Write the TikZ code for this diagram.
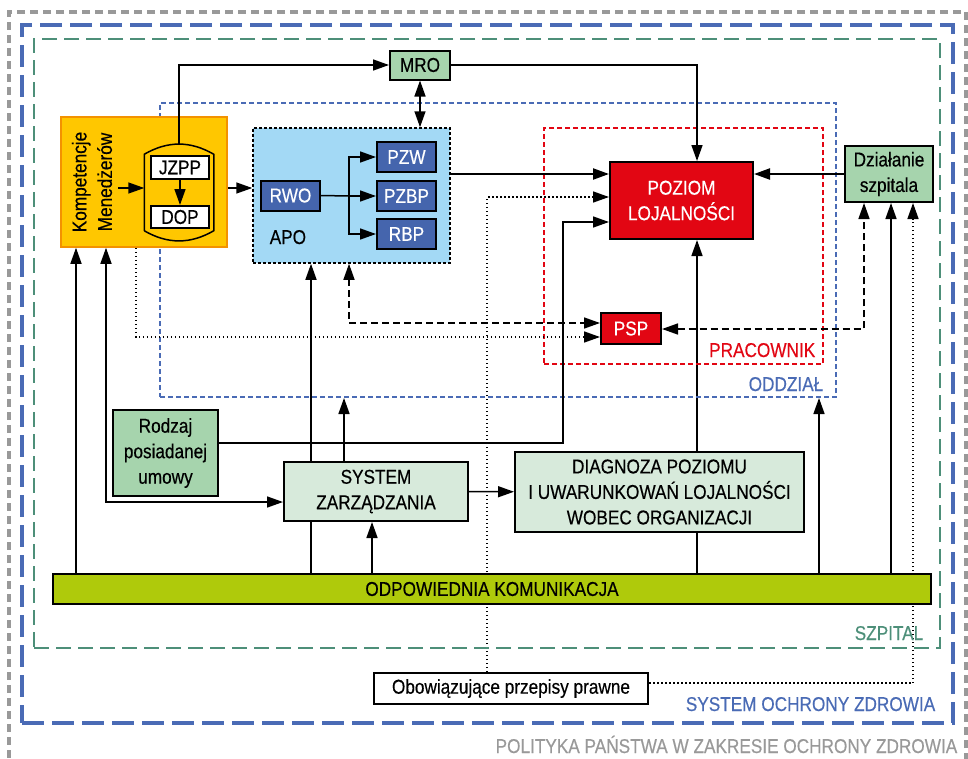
\documentclass[tikz,border=0pt]{standalone}
\usepackage{fontspec}
\setmainfont{Liberation Sans}[FakeStretch=0.86,FakeBold=0.4]
\usepackage{xcolor}
\usepackage{tikz}
\usetikzlibrary{arrows.meta,backgrounds,positioning}

\definecolor{zolty}{HTML}{FFC700}
\definecolor{pomarancz}{HTML}{F39200}
\definecolor{blekit}{HTML}{A3D9F5}
\definecolor{granat}{HTML}{4565AD}
\definecolor{zielen}{HTML}{A6D4AD}
\definecolor{jasnazielen}{HTML}{D7EADB}
\definecolor{czerwien}{HTML}{E20613}
\definecolor{oliwka}{HTML}{AFCA0B}
\definecolor{niebieski}{HTML}{4A6BB5}
\definecolor{morski}{HTML}{4D8F79}
\definecolor{szary}{HTML}{999999}

\tikzset{
	>={Triangle[length=16pt,width=11pt]},
	every node/.style={font=\fontsize{20}{25.5}\selectfont, inner sep=0pt, align=center},
	linia/.style={line width=1.5pt},
	zielony/.style={draw=black, line width=2pt, fill=zielen},
	jasny/.style={draw=black, line width=2pt, fill=jasnazielen},
	czerwony/.style={draw=black, line width=2pt, fill=czerwien, text=white},
	granatowy/.style={draw=black, line width=2pt, fill=granat, text=white,
			minimum width=59pt, minimum height=30pt},
	bialy/.style={draw=black, line width=2pt, fill=white},
	kreski/.style={dash pattern=on 7pt off 4pt},
	kropki/.style={dash pattern=on 1.5pt off 2.5pt},
	% ramki
	polityka/.style={draw=szary, line width=3.5pt, dash pattern=on 8pt off 5pt},
	soz/.style={draw=niebieski, line width=4pt, dash pattern=on 22pt off 8pt},
	szpital/.style={draw=morski, line width=2pt, dash pattern=on 15pt off 7pt},
	oddzial/.style={draw=niebieski, line width=2pt, dash pattern=on 5pt off 3pt},
	pracownik/.style={draw=czerwien, line width=2.5pt, dash pattern=on 5pt off 3pt}
}

\begin{document}
\begin{tikzpicture}[x=1pt,y=-1pt,linia]
	\useasboundingbox (0,0) rectangle (968,758);

	% ramki
	\node[polityka, minimum width=957pt, minimum height=780pt] (Polityka) at (487.5,402) {};
	\node[soz, minimum width=931pt, minimum height=698pt] (SOZ) at (487.5,374) {};
	\node[szpital, minimum width=906pt, minimum height=609pt] (Szpital) at (487,343.5) {};
	\node[oddzial, minimum width=676pt, minimum height=294pt] (Oddzial) at (498,250) {};
	\node[pracownik, minimum width=279pt, minimum height=236pt] (Pracownik) at (683.5,246) {};

	\node[anchor=base east, text=szary] (Polityka label) at (958,753) {POLITYKA PAŃSTWA W ZAKRESIE OCHRONY ZDROWIA};
	\node[anchor=base east, text=niebieski] (SOZ label) at (936,711) {SYSTEM OCHRONY ZDROWIA};
	\node[anchor=base east, text=morski] (Szpital label) at (924,640) {SZPITAL};
	\node[anchor=base east, text=niebieski] (Oddzial label) at (824,391) {ODDZIAŁ};
	\node[anchor=base east, text=czerwien] (Pracownik label) at (816,357) {PRACOWNIK};

	% bloki
	\node[zielony, minimum width=60pt, minimum height=29pt] (MRO) at (420,65) {MRO};
	\node[draw=pomarancz, line width=1.5pt, fill=zolty, minimum width=166pt, minimum height=130pt] (Kompetencje) at (144,182) {};
	\node[rotate=90] (Kompetencje text) at (92,182) {Kompetencje\\Menedżerów};
	\node[minimum width=68pt, minimum height=75pt] (Can) at (179,192.5) {};
	\draw[line width=1.5pt] (Can.south west) -- (Can.north west) to[bend left=30] (Can.north east)
		-- (Can.south east) to[bend left=30] (Can.south west);
	\node[bialy, minimum width=58pt, minimum height=23pt] (JZPP) at (180,167.5) {JZPP};
	\node[bialy, minimum width=58pt, minimum height=22pt] (DOP) at (180,217) {DOP};

	\node[draw=black, line width=1.5pt, dash pattern=on 3pt off 2pt, fill=blekit,
		minimum width=197pt, minimum height=135pt] (APO) at (351.5,195.5) {};
	\node[anchor=base west] (APO label) at (269,244) {APO};
	\node[granatowy] (RWO) at (290.5,195.5) {RWO};
	\node[granatowy] (PZW) at (406.5,157) {PZW};
	\node[granatowy] (PZBP) at (406.5,196) {PZBP};
	\node[granatowy] (RBP) at (406.5,234) {RBP};

	\node[czerwony, minimum width=143pt, minimum height=77pt] (Poziom) at (681.5,200.5) {POZIOM\\LOJALNOŚCI};
	\node[zielony, minimum width=88pt, minimum height=56pt] (Dzialanie) at (889,174) {Działanie\\szpitala};
	\node[czerwony, minimum width=60pt, minimum height=31pt] (PSP) at (631,328.5) {PSP};

	\node[zielony, minimum width=105pt, minimum height=86pt] (Rodzaj) at (165.5,453) {Rodzaj\\posiadanej\\umowy};
	\node[jasny, minimum width=184pt, minimum height=59pt] (System) at (376,491.5) {SYSTEM\\ZARZĄDZANIA};
	\node[jasny, minimum width=289pt, minimum height=80pt] (Diagnoza) at (659.5,492)
		{DIAGNOZA POZIOMU\\I UWARUNKOWAŃ LOJALNOŚCI\\WOBEC ORGANIZACJI};
	\node[draw=black, line width=2pt, fill=oliwka, minimum width=878pt, minimum height=30pt] (Komunikacja) at (492,589) {ODPOWIEDNIA KOMUNIKACJA};
	\node[bialy, minimum width=274pt, minimum height=31pt] (Przepisy) at (511,688.5) {Obowiązujące przepisy prawne};

	% punkty
	\coordinate (Joint1) at (118,188);
	\coordinate (Joint2) at (349,196);
	\coordinate (Joint3) at (697,65);
	\coordinate (Joint4) at (487,197);
	\coordinate (Joint5) at (563,443);
	\coordinate (Joint6) at (563,222);
	\coordinate (Joint7) at (864,329);
	\coordinate (Joint8) at (913,683);
	\coordinate (Joint9) at (349,323);
	\coordinate (Joint10) at (136,337);
	\coordinate (Joint11) at (106,502);
	\coordinate (Joint12) at (76,0);
	\coordinate (Joint13) at (311,0);
	\coordinate (Joint14) at (372,0);
	\coordinate (Joint15) at (819,0);
	\coordinate (Joint16) at (891,0);
	\coordinate (Joint17) at (344,0);

	\draw[->] (Joint1) -- (Can.west |- Joint1);
	\draw[->] ([yshift=10pt]Can.north) |- (MRO.west);
	\draw[->] (JZPP) -- (DOP);
	\draw[->] (Kompetencje.east |- Joint1) -- (APO.west |- Joint1);
	\draw (RWO.east) -- (Joint2);
	\draw[->] (Joint2) |- (PZW.west);
	\draw[->] (Joint2) -- (PZBP.west);
	\draw[->] (Joint2) |- (RBP.west);
	\draw[<->] (MRO.south) -- (APO.north -| MRO.south);
	\draw[->] (MRO.east) -| (Poziom.north -| Joint3);
	\draw[->, line width=2.2pt] (APO.east |- Dzialanie) -- (Poziom.west |- Dzialanie);
	\draw[->, line width=2.2pt] (Dzialanie) -- (Poziom.east |- Dzialanie);
	\draw[->] (Rodzaj.east |- Joint5) -- (Joint5) -- (Joint6) -- (Poziom.west |- Joint6);
	\draw[<->, kreski] (PSP.east |- Joint7) -- (Joint7) -- (Dzialanie.south -| Joint7);
	\draw[<->, kreski] (APO.south -| Joint9) |- (PSP.west |- Joint9);
	\draw[->, kropki] (Kompetencje.south -| Joint10) |- (PSP.west |- Joint10);
	\draw[<->] (Kompetencje.south -| Joint11) |- (System.west |- Joint11);
	\draw[->] (Komunikacja.north -| Joint12) -- (Kompetencje.south -| Joint12);
	\draw[->] (System.north -| Joint17) -- (Oddzial.south -| Joint17);
	\draw[->] (Komunikacja.north -| Joint14) -- (System.south -| Joint14);
	\draw[->] (System) -- (Diagnoza);
	\draw[->] (Komunikacja.north -| Joint15) -- (Oddzial.south -| Joint15);
	\draw[->] (Komunikacja.north -| Joint16) -- (Dzialanie.south -| Joint16);

	\begin{pgfonlayer}{background}
		\begin{scope}[linia]
			\draw[->, kropki] (Przepisy.north -| Joint4) -- (Joint4) -- (Poziom.west |- Joint4);
			\draw[->] (Komunikacja.north -| Joint3) -- (Poziom.south -| Joint3);
			\draw[->] (Komunikacja.north -| Joint13) -- (APO.south -| Joint13);
			\draw[->, kropki] (Przepisy.east |- Joint8) -| (Dzialanie.south -| Joint8);
		\end{scope}
	\end{pgfonlayer}
\end{tikzpicture}
\end{document}
